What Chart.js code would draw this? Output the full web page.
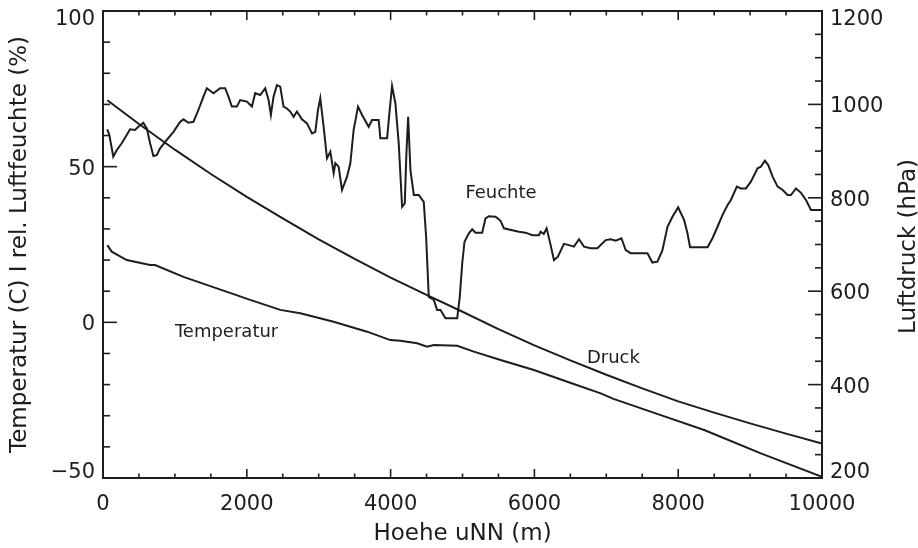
<!DOCTYPE html>
<html>
<head>
<meta charset="utf-8">
<script src="https://cdn.jsdelivr.net/npm/chart.js@4/dist/chart.umd.min.js"></script>
<style>
  html, body { margin: 0; padding: 0; background: #ffffff; }
  #wrap { width: 918px; height: 548px; position: relative; }
</style>
</head>
<body>
<div id="wrap"><canvas id="c"></canvas></div>
<script>
// Radiosonde profile: relative humidity, temperature and pressure versus height
const humHeights = [60, 88, 143, 190, 260, 330, 376, 446, 492, 561, 609, 655, 701, 748, 794, 887, 980, 1072, 1119, 1188,
  1258, 1327, 1397, 1444, 1536, 1630, 1699, 1745, 1792, 1862, 1908, 2001, 2071, 2117, 2187, 2256, 2303, 2335, 2372, 2419,
  2465, 2511, 2558, 2604, 2651, 2697, 2767, 2837, 2907, 2953, 2990, 3022, 3069, 3115, 3162, 3208, 3231, 3277, 3324, 3394,
  3440, 3486, 3547, 3603, 3695, 3742, 3834, 3858, 3951, 3983, 4020, 4067, 4113, 4160, 4197, 4220, 4244, 4276, 4323, 4392,
  4461, 4494, 4531, 4601, 4647, 4694, 4763, 4926, 4962, 4996, 5028, 5088, 5135, 5181, 5274, 5320, 5367, 5460, 5529, 5576,
  5692, 5785, 5877, 5971, 6064, 6086, 6130, 6170, 6226, 6272, 6327, 6411, 6481, 6550, 6620, 6690, 6783, 6876, 6992, 7061,
  7131, 7210, 7270, 7340, 7572, 7642, 7711, 7781, 7851, 7920, 7999, 8082, 8129, 8165, 8408, 8477, 8547, 8617, 8687, 8733,
  8816, 8872, 8942, 9011, 9104, 9150, 9206, 9252, 9313, 9383, 9453, 9522, 9568, 9638, 9708, 9777, 9847, 10000];
const humValues = [62.0, 60.2, 53.2, 55.3, 57.5, 60.2, 62.0, 61.8, 62.8, 64.1, 62.3, 57.5, 53.4, 53.7, 55.9, 58.6, 61.2, 64.4, 65.2, 64.1,
  64.4, 68.2, 72.5, 75.2, 73.6, 75.2, 75.2, 72.5, 69.3, 69.3, 71.4, 70.9, 69.3, 73.6, 73.0, 75.2, 71.4, 66.6, 72.5, 76.2,
  75.7, 69.3, 68.7, 67.7, 66.0, 67.7, 65.2, 63.9, 60.7, 61.2, 68.2, 72.0, 62.8, 52.7, 54.8, 47.9, 51.1, 50.0, 42.5, 46.8,
  51.1, 61.8, 69.3, 66.6, 62.8, 65.0, 65.0, 59.1, 59.1, 67.1, 75.9, 70.3, 57.5, 37.1, 38.2, 54.3, 66.0, 48.9, 40.9, 40.9,
  38.7, 27.5, 8.2, 7.2, 4.0, 4.0, 1.3, 1.3, 8.2, 18.9, 25.9, 28.6, 29.9, 28.8, 28.8, 33.4, 34.1, 33.9, 32.6, 30.2,
  29.6, 29.1, 28.8, 28.0, 28.0, 29.1, 28.4, 30.2, 24.8, 20.0, 21.1, 25.2, 24.8, 24.3, 26.7, 24.3, 23.8, 23.8, 26.4, 26.7,
  26.2, 27.0, 23.2, 22.2, 22.2, 19.2, 19.5, 23.2, 30.7, 33.9, 36.9, 32.9, 28.6, 24.1, 24.1, 27.0, 30.7, 34.5, 37.7, 39.3,
  43.6, 43.0, 43.0, 45.2, 49.5, 50.0, 51.9, 50.5, 46.8, 43.6, 42.5, 40.9, 40.9, 43.0, 41.6, 39.3, 36.1, 36.1];

const tempHeights = [60, 121, 330, 655, 724, 1119, 1584, 2047, 2465, 2744, 3208, 3673, 3997, 4136, 4369, 4508, 4601, 4926,
  5158, 5529, 5993, 6458, 6922, 7100, 7758, 8361, 9150, 10000];
const tempValues = [24.8, 22.7, 20.0, 18.4, 18.4, 14.6, 10.9, 7.2, 4.0, 2.9, 0.2, -3.0, -5.7, -5.9, -6.7, -7.8, -7.3, -7.5,
  -9.4, -12.1, -15.3, -19.1, -22.8, -24.6, -29.8, -34.6, -42.1, -49.6];

const presHeights = [60, 500, 1000, 1500, 2000, 2500, 3000, 3500, 4000, 4500, 5000, 5500, 6000, 6500, 7000, 7500, 8000,
  8500, 9000, 9500, 10000];
const presValues = [1009, 958, 903, 851, 802, 756, 711, 669, 629, 592, 556, 519, 484, 452, 421, 392, 364, 340, 317, 295, 274];

const xTicks = [0, 2000, 4000, 6000, 8000, 10000];
const leftTicks = [-50, 0, 50, 100];
const rightTicks = [200, 400, 600, 800, 1000, 1200];
const seriesNames = ['Feuchte', 'Temperatur', 'Druck'];

// Styling and placement
const INK = '#1d1d1d';
const FONT = "'DejaVu Sans', 'Noto Sans', sans-serif";
const minorSteps = { x: 500, y: 10, y2: 50 };
const tickLen = { xMajor: 9, xMinor: 4.5, yMajor: 14, yMinor: 7 };
// text anchors for curve names, in data units (height, left-axis value)
const nameAnchors = [
  { x: 5040, y: 40.0 },
  { x: 1000, y: -4.7 },
  { x: 6730, y: -13.1 }
];

const fmt = v => String(v).replace('-', '\u2212');
const toPoints = (xs, ys) => xs.map((x, i) => ({ x, y: ys[i] }));

const axisDecor = {
  id: 'axisDecor',
  afterDatasetsDraw(chart) {
    const { ctx, chartArea: a, scales } = chart;
    const seg = (x1, y1, x2, y2) => { ctx.beginPath(); ctx.moveTo(x1, y1); ctx.lineTo(x2, y2); ctx.stroke(); };
    ctx.save();
    ctx.strokeStyle = INK;
    ctx.fillStyle = INK;

    // inward tick marks
    ctx.lineWidth = 1.6;
    const xs = scales.x;
    for (let v = xs.min; v <= xs.max + 1e-6; v += minorSteps.x) {
      const px = xs.getPixelForValue(v);
      const len = xTicks.includes(v) ? tickLen.xMajor : tickLen.xMinor;
      seg(px, a.bottom, px, a.bottom - len);
      seg(px, a.top, px, a.top + len);
    }
    const yl = scales.y;
    for (let v = yl.min; v <= yl.max + 1e-6; v += minorSteps.y) {
      const py = yl.getPixelForValue(v);
      const len = leftTicks.includes(v) ? tickLen.yMajor : tickLen.yMinor;
      seg(a.left, py, a.left + len, py);
    }
    const yr = scales.y2;
    for (let v = yr.min; v <= yr.max + 1e-6; v += minorSteps.y2) {
      const py = yr.getPixelForValue(v);
      const len = rightTicks.includes(v) ? tickLen.yMajor : tickLen.yMinor;
      seg(a.right, py, a.right - len, py);
    }

    // frame
    ctx.lineWidth = 2;
    ctx.strokeRect(a.left, a.top, a.right - a.left, a.bottom - a.top);

    // vertical-axis tick labels, kept inside the plot height at the ends
    ctx.font = '21px ' + FONT;
    ctx.textBaseline = 'middle';
    const place = py => Math.min(Math.max(py + 2.5, a.top + 8.5), a.bottom - 5);
    ctx.textAlign = 'right';
    leftTicks.forEach(v => ctx.fillText(fmt(v), a.left - 8, place(yl.getPixelForValue(v))));
    ctx.textAlign = 'left';
    rightTicks.forEach(v => ctx.fillText(fmt(v), a.right + 8, place(yr.getPixelForValue(v))));

    // right axis title, reading upwards
    ctx.save();
    ctx.font = '23px ' + FONT;
    ctx.textAlign = 'center';
    ctx.translate(909, (a.top + a.bottom) / 2 + 2);
    ctx.rotate(-Math.PI / 2);
    ctx.fillText('Luftdruck (hPa)', 0, 0);
    ctx.restore();

    // curve names
    ctx.font = '18px ' + FONT;
    ctx.textAlign = 'left';
    ctx.textBaseline = 'alphabetic';
    seriesNames.forEach((name, i) => {
      const p = nameAnchors[i];
      ctx.fillText(name, xs.getPixelForValue(p.x), yl.getPixelForValue(p.y));
    });
    ctx.restore();
  }
};

const lineStyle = { borderColor: INK, borderWidth: 2, pointRadius: 0, tension: 0, fill: false };

new Chart(document.getElementById('c'), {
  type: 'line',
  data: {
    datasets: [
      { label: seriesNames[0], data: toPoints(humHeights, humValues), yAxisID: 'y', ...lineStyle },
      { label: seriesNames[1], data: toPoints(tempHeights, tempValues), yAxisID: 'y', ...lineStyle },
      { label: seriesNames[2], data: toPoints(presHeights, presValues), yAxisID: 'y2', ...lineStyle }
    ]
  },
  options: {
    responsive: true,
    maintainAspectRatio: false,
    animation: false,
    layout: { padding: { top: 11, right: 0, bottom: 0, left: 0 } },
    plugins: { legend: { display: false }, tooltip: { enabled: false } },
    scales: {
      x: {
        type: 'linear', position: 'bottom', min: 0, max: 10000,
        afterBuildTicks: s => { s.ticks = xTicks.map(v => ({ value: v })); },
        ticks: { color: INK, font: { family: FONT, size: 21 }, padding: 14, maxRotation: 0, autoSkip: false, callback: v => fmt(v) },
        grid: { display: false, drawTicks: false },
        border: { display: false },
        title: { display: true, text: 'Hoehe uNN (m)', color: INK, font: { family: FONT, size: 23 }, padding: { top: 0, bottom: 0 } },
        afterFit: s => { s.height = 70; }
      },
      y: {
        type: 'linear', position: 'left', min: -50, max: 100,
        afterBuildTicks: s => { s.ticks = leftTicks.map(v => ({ value: v })); },
        ticks: { display: false },
        grid: { display: false, drawTicks: false },
        border: { display: false },
        title: { display: true, text: 'Temperatur (C) I rel. Luftfeuchte (%)', color: INK, font: { family: FONT, size: 23 }, padding: { top: 6, bottom: 0 } },
        afterFit: s => { s.width = 103; }
      },
      y2: {
        type: 'linear', position: 'right', min: 200, max: 1200,
        afterBuildTicks: s => { s.ticks = rightTicks.map(v => ({ value: v })); },
        ticks: { display: false },
        grid: { display: false, drawTicks: false },
        border: { display: false },
        afterFit: s => { s.width = 96; }
      }
    }
  },
  plugins: [axisDecor]
});
</script>
</body>
</html>
